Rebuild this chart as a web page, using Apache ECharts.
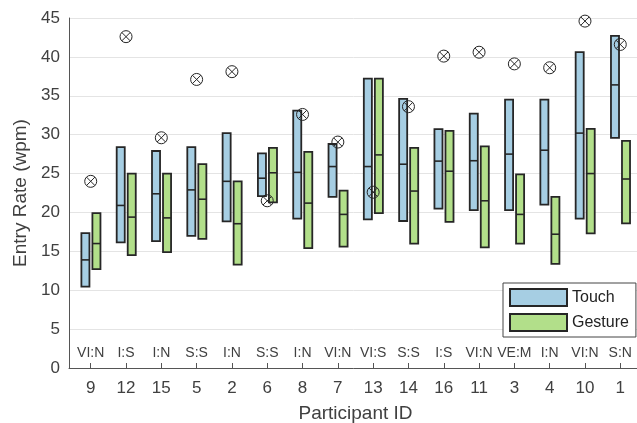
<!DOCTYPE html>
<html>
<head>
<meta charset="utf-8">
<script src="https://cdn.jsdelivr.net/npm/echarts@6/dist/echarts.min.js"></script>
<style>
  html, body { margin: 0; padding: 0; background: #fff; }
  #chart { width: 637px; height: 423px; }
</style>
</head>
<body>
<div id="chart"></div>
<script>
// Participants, ordered by median Touch entry rate
const participants = ['9', '12', '15', '5', '2', '6', '8', '7', '13', '14', '16', '11', '3', '4', '10', '1'];
const groups = ['VI:N', 'I:S', 'I:N', 'S:S', 'I:N', 'S:S', 'I:N', 'VI:N', 'VI:S', 'S:S', 'I:S', 'VI:N', 'VE:M', 'I:N', 'VI:N', 'S:N'];

// Entry rate (wpm): lower quartile, median, upper quartile
const touchQ1 = [10.45, 16.15, 16.3, 17.0, 18.85, 22.1, 19.2, 22.0, 19.1, 18.9, 20.5, 20.3, 20.3, 21.0, 19.2, 29.6];
const touchMed = [13.9, 20.9, 22.4, 22.9, 24.0, 24.4, 25.15, 25.9, 25.9, 26.2, 26.6, 26.65, 27.5, 28.0, 30.2, 36.4];
const touchQ3 = [17.35, 28.4, 27.9, 28.4, 30.2, 27.6, 33.1, 28.8, 37.2, 34.6, 30.7, 32.7, 34.5, 34.5, 40.6, 42.7];

const gestureQ1 = [12.7, 14.5, 14.9, 16.6, 13.3, 21.3, 15.4, 15.6, 19.9, 16.0, 18.8, 15.5, 16.0, 13.4, 17.3, 18.6];
const gestureMed = [16.0, 19.4, 19.3, 21.7, 18.55, 25.1, 21.2, 19.75, 27.4, 22.75, 25.3, 21.5, 19.75, 17.2, 25.0, 24.3];
const gestureQ3 = [19.9, 25.0, 25.0, 26.2, 24.0, 28.3, 27.8, 22.8, 37.2, 28.3, 30.5, 28.5, 24.9, 22.0, 30.75, 29.2];

// Single reference rate per participant, drawn as a crossed circle
const bestRate = [24.0, 42.6, 29.6, 37.1, 38.1, 21.5, 32.6, 29.05, 22.6, 33.6, 40.1, 40.6, 39.1, 38.6, 44.6, 41.6];

const yTicks = [0, 5, 10, 15, 20, 25, 30, 35, 40, 45];

const FONT = 'Liberation Sans, Arial, Helvetica, sans-serif';
const TEXT = '#404040';
const EDGE = '#262626';
const positions = participants.map((_, i) => i + 1);

function boxData(q1, med, q3) {
  return positions.map((x, i) => [x, q1[i], med[i], q3[i]]);
}

// Draws a quartile box with a median bar, shifted sideways within the category slot
function boxRenderer(shiftFrac) {
  return function (params, api) {
    const x = api.value(0);
    const band = api.size([1, 0])[0];
    const lo = api.coord([x, api.value(1)]);
    const md = api.coord([x, api.value(2)]);
    const hi = api.coord([x, api.value(3)]);
    const w = band * 0.228;
    const cx = lo[0] + band * shiftFrac;
    return {
      type: 'group',
      children: [
        {
          type: 'rect',
          shape: { x: cx - w / 2, y: hi[1], width: w, height: lo[1] - hi[1] },
          style: { fill: api.visual('color'), stroke: EDGE, lineWidth: 1.8 }
        },
        {
          type: 'line',
          shape: { x1: cx - w / 2, y1: md[1], x2: cx + w / 2, y2: md[1] },
          style: { stroke: EDGE, lineWidth: 1.6 }
        }
      ]
    };
  };
}

function crossCircle(params, api) {
  const p = api.coord([api.value(0), api.value(1)]);
  const r = 6;
  const d = r * 0.7071;
  const st = { stroke: EDGE, lineWidth: 1, fill: null };
  return {
    type: 'group',
    children: [
      { type: 'circle', shape: { cx: p[0], cy: p[1], r: r }, style: st },
      { type: 'line', shape: { x1: p[0] - d, y1: p[1] - d, x2: p[0] + d, y2: p[1] + d }, style: st },
      { type: 'line', shape: { x1: p[0] - d, y1: p[1] + d, x2: p[0] + d, y2: p[1] - d }, style: st }
    ]
  };
}

const chart = echarts.init(document.getElementById('chart'), null, { renderer: 'canvas' });

const xMin = 0.385, xMax = 16.615;

chart.setOption({
  animation: false,
  backgroundColor: '#fff',
  textStyle: { fontFamily: FONT },
  grid: { left: 69, top: 18, width: 573, height: 350, containLabel: false, outerBoundsMode: 'none' },
  legend: {
    orient: 'vertical',
    left: 503,
    top: 283,
    padding: [5, 7, 5, 6],
    itemWidth: 57,
    itemHeight: 17,
    itemGap: 6,
    backgroundColor: '#fff',
    borderColor: '#444',
    borderWidth: 1,
    borderRadius: 0,
    textStyle: { fontFamily: FONT, fontSize: 16, color: '#222' },
    data: [
      { name: 'Touch', icon: 'rect', itemStyle: { color: '#a6cee3', borderColor: EDGE, borderWidth: 2 } },
      { name: 'Gesture', icon: 'rect', itemStyle: { color: '#b2df8a', borderColor: EDGE, borderWidth: 2 } }
    ]
  },
  xAxis: [
    {
      type: 'value',
      min: xMin,
      max: xMax,
      name: 'Participant ID',
      nameLocation: 'middle',
      nameGap: 36,
      nameTextStyle: { fontFamily: FONT, fontSize: 19, color: TEXT },
      axisLine: { lineStyle: { color: '#555', width: 1 } },
      axisTick: { show: true, inside: true, length: 5, customValues: positions, lineStyle: { color: '#555' } },
      axisLabel: {
        customValues: positions,
        margin: 12,
        fontFamily: FONT,
        fontSize: 17,
        color: TEXT,
        formatter: (v) => participants[Math.round(v) - 1] || ''
      },
      splitLine: { show: false }
    },
    {
      type: 'value',
      min: xMin,
      max: xMax,
      position: 'bottom',
      axisLine: { show: false },
      axisTick: { show: false },
      axisLabel: {
        inside: true,
        customValues: positions,
        margin: 8,
        fontFamily: FONT,
        fontSize: 14,
        color: TEXT,
        formatter: (v) => groups[Math.round(v) - 1] || ''
      },
      splitLine: { show: false }
    }
  ],
  yAxis: {
    type: 'value',
    min: yTicks[0],
    max: yTicks[yTicks.length - 1],
    interval: 5,
    name: 'Entry Rate (wpm)',
    nameLocation: 'middle',
    nameGap: 33,
    nameTextStyle: { fontFamily: FONT, fontSize: 19, color: TEXT },
    axisLine: { show: true, lineStyle: { color: '#555', width: 1 } },
    axisTick: { show: false },
    axisLabel: { margin: 9, fontFamily: FONT, fontSize: 17, color: TEXT },
    splitLine: { show: true, lineStyle: { color: '#e4e4e4', width: 1 } }
  },
  series: [
    {
      name: 'Touch',
      type: 'custom',
      color: '#a6cee3',
      renderItem: boxRenderer(-0.15),
      encode: { x: 0, y: [1, 2, 3] },
      data: boxData(touchQ1, touchMed, touchQ3),
      z: 2
    },
    {
      name: 'Gesture',
      type: 'custom',
      color: '#b2df8a',
      renderItem: boxRenderer(0.162),
      encode: { x: 0, y: [1, 2, 3] },
      data: boxData(gestureQ1, gestureMed, gestureQ3),
      z: 2
    },
    {
      name: 'Best',
      type: 'custom',
      renderItem: crossCircle,
      encode: { x: 0, y: 1 },
      data: positions.map((x, i) => [x, bestRate[i]]),
      z: 3
    }
  ]
});
</script>
</body>
</html>
